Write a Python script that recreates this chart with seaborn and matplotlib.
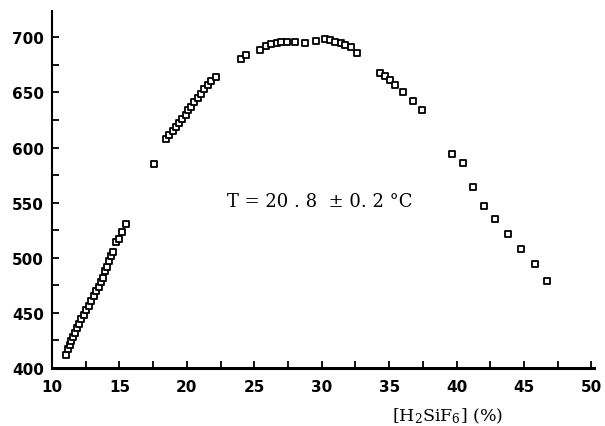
import matplotlib
matplotlib.use("Agg")
import matplotlib.pyplot as plt
from matplotlib.ticker import MultipleLocator
import seaborn as sns
import pandas as pd

# [H2SiF6] concentration (%)
conc = [11.0, 11.2, 11.3, 11.4, 11.55, 11.7, 11.85, 12.0, 12.15, 12.35, 12.5, 12.75,
        12.9, 13.1, 13.25, 13.5, 13.65, 13.8, 13.95, 14.1, 14.25, 14.4, 14.5, 14.75,
        14.95, 15.2, 15.5,
        17.55,
        18.45, 18.7, 18.95, 19.2, 19.4, 19.65, 19.9, 20.1, 20.3, 20.55, 20.8, 21.05,
        21.3, 21.55, 21.8, 22.15,
        24.0, 24.4, 25.45, 25.85, 26.25, 26.65, 26.95, 27.4, 28.05, 28.75, 29.55,
        30.25, 30.65, 31.0, 31.4, 31.75, 32.15, 32.6,
        34.35, 34.7, 35.1, 35.45, 36.05, 36.8, 37.45,
        39.65, 40.5, 41.2, 42.0, 42.85, 43.85, 44.75, 45.85, 46.7]
# measured value
value = [412, 417, 421, 424, 428, 432, 436, 440, 444, 448, 453, 456,
         461, 465, 470, 473, 478, 482, 488, 492, 497, 502, 505, 514,
         517, 523, 531,
         585,
         608, 611, 615, 619, 622, 626, 630, 634, 637, 641, 645, 649,
         653, 657, 660, 664,
         680, 684, 689, 692, 694, 695, 696, 696, 696, 695, 697,
         699, 698, 696, 695, 693, 691, 686,
         668, 665, 661, 657, 650, 642, 634,
         594, 586, 564, 547, 535, 522, 508, 494, 479]

xticks = [10, 15, 20, 25, 30, 35, 40, 45, 50]
xticklabels = ["10", "15", "20", "25", "30", "35", "40", "45", "50"]
yticks = [400, 450, 500, 550, 600, 650, 700]
yticklabels = ["400", "450", "500", "550", "600", "650", "700"]
annotation = "T = 20 . 8  ± 0. 2 °C"
xlabel = "[H$_2$SiF$_6$] (%)"

df = pd.DataFrame({"conc": conc, "value": value})

sns.set_style("ticks", {"axes.edgecolor": "black", "xtick.color": "black",
                        "ytick.color": "black", "text.color": "black"})
plt.rcParams["font.family"] = ["DejaVu Sans"]
plt.rcParams["mathtext.fontset"] = "dejavuserif"

fig = plt.figure(figsize=(6.05, 4.27), dpi=100)
ax = fig.add_axes([0.086, 0.136, 0.896, 0.836])

sns.scatterplot(data=df, x="conc", y="value", ax=ax, marker="s", s=20,
                facecolor="white", edgecolor="black", linewidth=1.3, legend=False)

ax.set_xlim(10, 50.2)
ax.set_ylim(400, 724)
ax.set_xticks(xticks)
ax.set_xticklabels(xticklabels, fontweight="bold", fontsize=11, color="black")
ax.set_yticks(yticks)
ax.set_yticklabels(yticklabels, fontweight="bold", fontsize=11, color="black")
ax.xaxis.set_minor_locator(MultipleLocator(2.5))
ax.yaxis.set_minor_locator(MultipleLocator(25))
ax.tick_params(axis="both", which="both", direction="in", length=5, width=1.3, color="black")
ax.tick_params(axis="x", which="major", pad=8)
ax.tick_params(axis="y", which="major", pad=6)

sns.despine(ax=ax)
ax.spines["bottom"].set_linewidth(2.2)
ax.spines["left"].set_linewidth(1.5)
ax.spines["bottom"].set_color("black")
ax.spines["left"].set_color("black")
ax.set_xlabel("")
ax.set_ylabel("")

fig.text(0.529, 0.528, annotation, ha="center", va="center",
         fontsize=13, family=["DejaVu Serif"], color="black")
fig.text(0.739, 0.026, xlabel, ha="center", va="center", fontsize=12.5,
         family=["DejaVu Serif"], color="black")

fig.savefig("out.png", dpi=100)
